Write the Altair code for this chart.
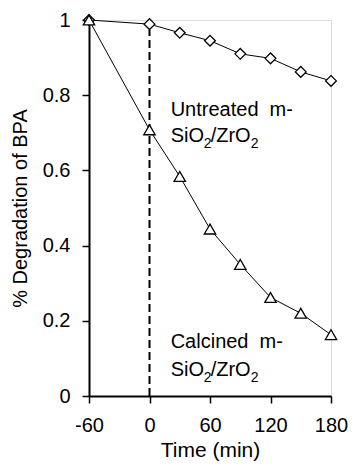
import altair as alt
import pandas as pd

time = [-60, 0, 30, 60, 90, 120, 150, 180]
untreated = [1.0, 0.989, 0.966, 0.945, 0.910, 0.898, 0.862, 0.838]
calcined = [1.0, 0.708, 0.584, 0.444, 0.350, 0.262, 0.220, 0.163]

# annotation lines: first line text, formula pieces, anchor (data coords)
line1_text = ["Untreated\u00a0 m-", "Calcined\u00a0 m-"]
line1_y = [0.745, 0.128]
formula_y = [0.675, 0.053]
label_x = [21, 21]
formula_main = ["SiO", "/ZrO"]   # normal-size pieces
formula_sub = ["2", "2"]          # subscript pieces

x_ticks = [-60, 0, 60, 120, 180]
y_ticks = [0, 0.2, 0.4, 0.6, 0.8, 1.0]

FONT = "Liberation Sans"
FS = 20

un_df = pd.DataFrame({"time": time, "value": untreated, "series": "Untreated"})
ca_df = pd.DataFrame({"time": time, "value": calcined, "series": "Calcined"})
df = pd.concat([un_df, ca_df], ignore_index=True)

l1 = pd.DataFrame({"x": label_x, "y": line1_y, "text": line1_text})
fm = pd.DataFrame({"x": label_x, "y": formula_y})
vline = pd.DataFrame({"x": [0, 0], "y": [0, 0.975]})

xs = alt.Scale(domain=[-60, 180], nice=False, zero=False)
ys = alt.Scale(domain=[0, 1], nice=False)

common_axis = dict(
    grid=False,
    domainColor="black",
    domainWidth=2,
    tickColor="black",
    tickWidth=1.5,
    tickSize=7,
    labelFontSize=FS,
    labelFont=FONT,
    labelColor="black",
    labelFlush=False,
    labelOverlap=False,
    titleFont=FONT,
    titleFontWeight="normal",
    titleColor="black",
)

xax = alt.Axis(
    values=x_ticks,
    labelExpr="datum.value + ''",
    title="Time (min)",
    labelPadding=12,
    titleFontSize=21,
    titlePadding=4,
    **common_axis,
)
yax = alt.Axis(
    values=y_ticks,
    format="~g",
    title="% Degradation of BPA",
    labelPadding=12,
    titleFontSize=20,
    titlePadding=12,
    **common_axis,
)

X = alt.X("time:Q", scale=xs, axis=xax)
Y = alt.Y("value:Q", scale=ys, axis=yax)

lines = alt.Chart(df).mark_line(color="black", strokeWidth=1).encode(
    x=X, y=Y, detail="series:N"
)

pts_un = alt.Chart(un_df).mark_point(
    shape="diamond", filled=True, fill="white", stroke="black",
    strokeWidth=1.3, size=115, opacity=1
).encode(x=alt.X("time:Q", scale=xs), y=alt.Y("value:Q", scale=ys))

pts_ca = alt.Chart(ca_df).mark_point(
    shape="triangle-up", filled=True, fill="white", stroke="black",
    strokeWidth=1.3, size=130, opacity=1
).encode(x=alt.X("time:Q", scale=xs), y=alt.Y("value:Q", scale=ys))

dash = alt.Chart(vline).mark_line(color="black", strokeWidth=2, strokeDash=[8, 4]).encode(
    x=alt.X("x:Q", scale=xs),
    y=alt.Y("y:Q", scale=ys),
)

txt_kw = dict(align="left", baseline="alphabetic", font=FONT, color="black")
enc_xy = dict(x=alt.X("x:Q", scale=xs), y=alt.Y("y:Q", scale=ys))

t_line1 = alt.Chart(l1).mark_text(fontSize=FS, **txt_kw).encode(text="text:N", **enc_xy)
t_a = alt.Chart(fm).mark_text(fontSize=FS, text=formula_main[0], **txt_kw).encode(**enc_xy)
t_b = alt.Chart(fm).mark_text(fontSize=14, dx=33, dy=6, text=formula_sub[0], **txt_kw).encode(**enc_xy)
t_c = alt.Chart(fm).mark_text(fontSize=FS, dx=40, text=formula_main[1], **txt_kw).encode(**enc_xy)
t_d = alt.Chart(fm).mark_text(fontSize=14, dx=80, dy=6, text=formula_sub[1], **txt_kw).encode(**enc_xy)

chart = (
    alt.layer(dash, lines, pts_un, pts_ca, t_line1, t_a, t_b, t_c, t_d)
    .properties(
        width=242,
        height=376,
        autosize=alt.AutoSizeParams(type="none"),
        padding={"left": 81, "top": 12, "right": 17, "bottom": 65},
    )
    .configure_view(stroke="black", strokeWidth=1)
    .configure(background="white")
)

chart.save("out.html", embed_options={"renderer": "svg", "actions": False})
